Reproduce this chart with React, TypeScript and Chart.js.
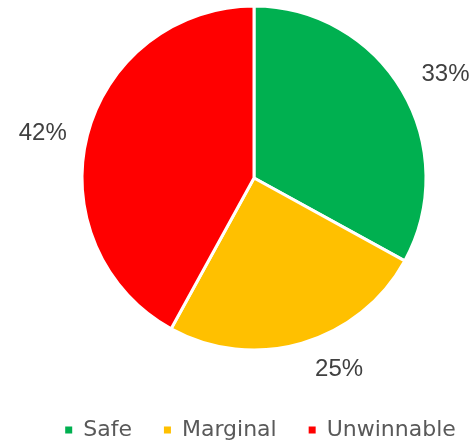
import React, { useEffect, useRef } from "react";
import { Chart, registerables } from "chart.js";

Chart.register(...registerables);

const categories = ["Safe", "Marginal", "Unwinnable"];
const values = [33, 25, 42];
const colors = ["#00B050", "#FFC000", "#FF0000"];
const labelTexts = ["33%", "25%", "42%"];

const outsideLabels = {
  id: "outsideLabels",
  afterDatasetsDraw(chart: any) {
    const ctx = chart.ctx;
    const meta = chart.getDatasetMeta(0);
    ctx.save();
    ctx.font = "24px 'Liberation Sans'";
    ctx.fillStyle = "#404040";
    meta.data.forEach((arc: any, i: number) => {
      const mid = (arc.startAngle + arc.endAngle) / 2;
      const r = arc.outerRadius + 19;
      const c = Math.cos(mid);
      const s = Math.sin(mid);
      const x = arc.x + c * r;
      const y = arc.y + s * r;
      const sign = c > 0.1 ? 1 : c < -0.1 ? -1 : 0;
      ctx.textAlign = sign > 0 ? "left" : sign < 0 ? "right" : "center";
      ctx.textBaseline = s < -0.3 ? "bottom" : s > 0.3 ? "top" : "middle";
      const xOff = sign * (2 + 8 * (1 - Math.abs(c)));
      const yOff = s < -0.3 ? 6 : s > 0.3 ? -4.5 : 2.5;
      ctx.fillText(labelTexts[i], x + xOff, y + yOff);
    });
    ctx.restore();
  },
};

const bottomLegend = {
  id: "bottomLegend",
  afterDraw(chart: any) {
    const ctx = chart.ctx;
    const labels: string[] = chart.data.labels;
    const bg: string[] = chart.data.datasets[0].backgroundColor;
    ctx.save();
    ctx.font = "22px 'DejaVu Sans'";
    const box = 7;
    const gapText = 11;
    const gapItem = 32;
    const widths = labels.map((l) => ctx.measureText(l).width);
    const total =
      widths.reduce((a, b) => a + b, 0) + labels.length * (box + gapText) + (labels.length - 1) * gapItem;
    let x = 260.5 - total / 2;
    const y = 430;
    ctx.textBaseline = "middle";
    ctx.textAlign = "left";
    labels.forEach((l, i) => {
      ctx.fillStyle = bg[i];
      ctx.fillRect(x, y - 3.5, box, box);
      x += box + gapText;
      ctx.fillStyle = "#595959";
      ctx.fillText(l, x, y);
      x += widths[i] + gapItem;
    });
    ctx.restore();
  },
};

export default function App() {
  const ref = useRef<HTMLCanvasElement>(null);
  useEffect(() => {
    const chart = new Chart(ref.current!, {
      type: "pie",
      data: {
        labels: categories,
        datasets: [
          {
            data: values,
            backgroundColor: colors,
            borderColor: "#FFFFFF",
            borderWidth: 3,
          },
        ],
      },
      options: {
        animation: false,
        responsive: false,
        layout: { padding: { left: 36, right: 0, top: 4.5, bottom: 91.5 } },
        plugins: {
          tooltip: { enabled: false },
          legend: { display: false },
        },
      },
      plugins: [outsideLabels, bottomLegend],
    });
    return () => chart.destroy();
  }, []);
  return (
    <div style={{ position: "fixed", left: 0, top: 0, width: 472, height: 443, background: "#fff" }}>
      <canvas ref={ref} width={472} height={443} />
    </div>
  );
}
